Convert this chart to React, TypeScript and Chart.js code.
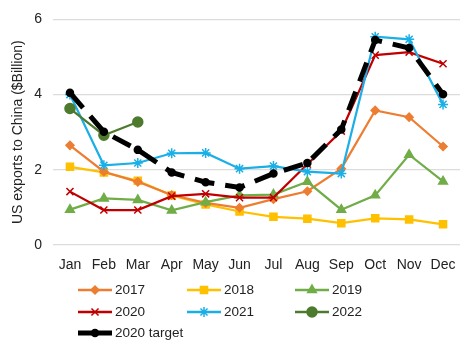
import React, { useEffect, useRef } from "react";
import { Chart, registerables } from "chart.js";
import { drawPoint } from "chart.js/helpers";
Chart.register(...registerables);

const months = ["Jan", "Feb", "Mar", "Apr", "May", "Jun", "Jul", "Aug", "Sep", "Oct", "Nov", "Dec"];
const yTicks = [0, 2, 4, 6];
const s2017 = [2.65, 1.95, 1.68, 1.33, 1.12, 0.99, 1.22, 1.43, 2.03, 3.58, 3.4, 2.62];
const s2018 = [2.08, 1.93, 1.71, 1.32, 1.08, 0.89, 0.75, 0.7, 0.58, 0.71, 0.68, 0.55];
const s2019 = [0.94, 1.24, 1.2, 0.92, 1.14, 1.32, 1.34, 1.68, 0.94, 1.32, 2.4, 1.69];
const s2020 = [1.42, 0.93, 0.93, 1.3, 1.36, 1.26, 1.26, 2.15, 3.03, 5.05, 5.13, 4.82];
const s2021 = [4.0, 2.12, 2.18, 2.44, 2.45, 2.03, 2.1, 1.95, 1.9, 5.54, 5.47, 3.74];
const s2022 = [3.63, 2.92, 3.27];
const sTarget = [4.05, 3.01, 2.53, 1.93, 1.67, 1.53, 1.9, 2.18, 3.07, 5.45, 5.24, 4.01];

const FONT = "'Liberation Sans', Arial, sans-serif";

export default function App() {
  const ref = useRef<HTMLCanvasElement>(null);
  useEffect(() => {
    const ds = (label: string, data: number[], color: string, style: any, radius: number, order: number) => ({
      label,
      data,
      borderColor: color,
      backgroundColor: color,
      pointStyle: style,
      pointRadius: radius,
      pointBorderWidth: 1.5,
      borderWidth: 2.2,
      tension: 0,
      order,
    });
    const datasets: any[] = [
      ds("2017", s2017, "#ED7D31", "rectRot", 4, 6),
      ds("2018", s2018, "#FFC000", "rect", 5, 7),
      ds("2019", s2019, "#70AD47", "triangle", 5, 5),
      ds("2020", s2020, "#C00000", "crossRot", 5, 4),
      ds("2021", s2021, "#1AAFE6", "star", 5, 3),
      ds("2022", s2022, "#4E7A2E", "circle", 5, 2),
      {
        ...ds("2020 target", sTarget, "#000000", "circle", 3.5, 1),
        borderWidth: 5,
        borderDash: [20, 11],
        borderCapStyle: "butt",
      },
    ];
    const legendPlugin = {
      id: "gridLegend",
      afterDraw(chart: any) {
        const ctx = chart.ctx as CanvasRenderingContext2D;
        const cols = [78, 187, 295];
        const rows = [290, 312, 333];
        chart.data.datasets.forEach((d: any, i: number) => {
          const x0 = cols[i % 3];
          const y = rows[Math.floor(i / 3)];
          ctx.save();
          ctx.strokeStyle = d.borderColor;
          ctx.lineWidth = d.label === "2020 target" ? 5 : 2.5;
          ctx.beginPath();
          ctx.moveTo(x0, y);
          ctx.lineTo(x0 + 34, y);
          ctx.stroke();
          ctx.restore();
          ctx.save();
          ctx.fillStyle = d.borderColor;
          ctx.strokeStyle = d.borderColor;
          ctx.lineWidth = 1.5;
          drawPoint(ctx, { pointStyle: d.pointStyle, radius: d.pointRadius, rotation: 0, borderWidth: 1.5 } as any, x0 + 17, y);
          ctx.restore();
          ctx.save();
          ctx.fillStyle = "#222";
          ctx.font = `13.5px ${FONT}`;
          ctx.textBaseline = "middle";
          ctx.fillText(d.label, x0 + 37, y);
          ctx.restore();
        });
      },
    };
    const chart = new Chart(ref.current!, {
      type: "line",
      data: { labels: months, datasets },
      options: {
        animation: false,
        responsive: false,
        layout: { padding: { top: 14, right: 14, bottom: 72, left: 0 } },
        plugins: { legend: { display: false }, tooltip: { enabled: false } },
        scales: {
          x: {
            offset: true,
            grid: { display: false },
            border: { display: false },
            ticks: { color: "#222", font: { family: FONT, size: 14 }, padding: 4 },
            afterFit: (s: any) => {
              s.height = 35;
            },
          },
          y: {
            min: 0,
            max: 6,
            afterBuildTicks: (s: any) => {
              s.ticks = yTicks.map((v) => ({ value: v }));
            },
            grid: { color: "#DCDCDC", lineWidth: 1.2, drawTicks: false },
            border: { display: false },
            ticks: { color: "#222", font: { family: FONT, size: 14 }, padding: 11 },
            title: {
              display: true,
              text: "US exports to China ($Billion)",
              color: "#222",
              font: { family: FONT, size: 14 },
              padding: { top: 10, bottom: 4 },
            },
            afterFit: (s: any) => {
              s.width = 53;
            },
          },
        },
      },
      plugins: [legendPlugin],
    });
    return () => chart.destroy();
  }, []);
  return (
    <div style={{ position: "fixed", left: 0, top: 0, width: 474, height: 352, background: "#fff" }}>
      <canvas ref={ref} width={474} height={352} style={{ width: 474, height: 352 }} />
    </div>
  );
}
